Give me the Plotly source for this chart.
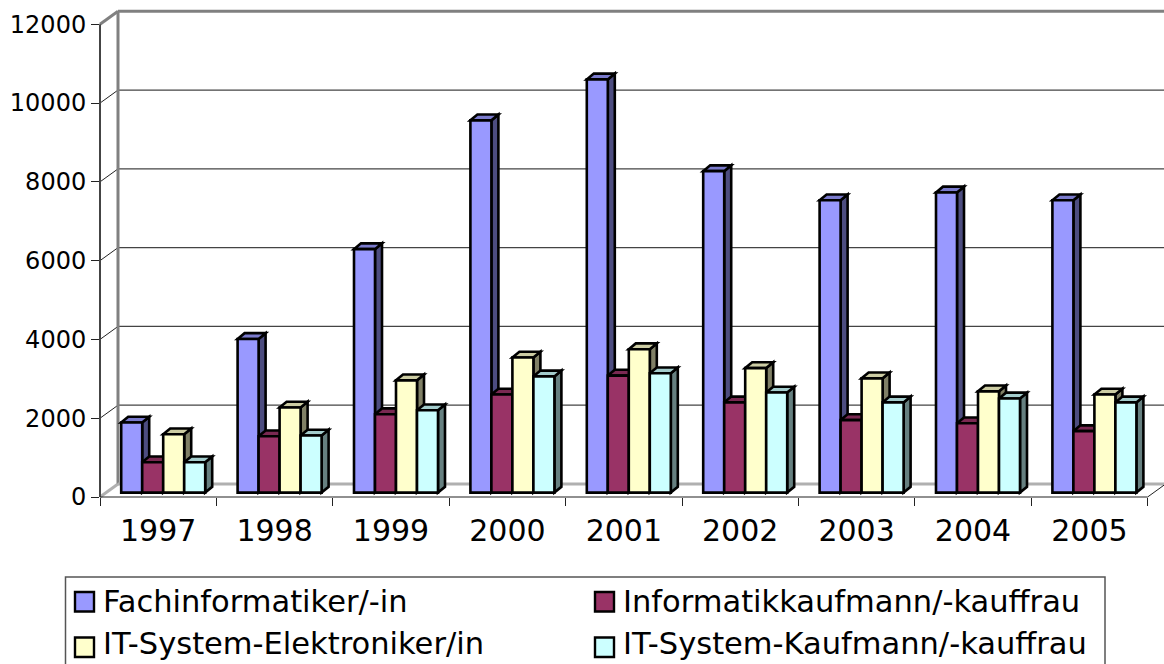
import plotly.graph_objects as go

years = ["1997", "1998", "1999", "2000", "2001", "2002", "2003", "2004", "2005"]
fachinformatiker = [1780, 3900, 6180, 9450, 10490, 8160, 7420, 7620, 7420]
informatikkaufmann = [770, 1430, 1990, 2490, 2970, 2290, 1840, 1760, 1560]
it_elektroniker = [1480, 2160, 2850, 3430, 3640, 3160, 2900, 2570, 2490]
it_kaufmann = [770, 1450, 2090, 2950, 3030, 2540, 2290, 2390, 2290]
series_names = ["Fachinformatiker/-in", "Informatikkaufmann/-kauffrau",
                "IT-System-Elektroniker/in", "IT-System-Kaufmann/-kauffrau"]
y_ticks = [0, 2000, 4000, 6000, 8000, 10000, 12000]

series = [fachinformatiker, informatikkaufmann, it_elektroniker, it_kaufmann]
front = ["#9999FF", "#993366", "#FFFFCC", "#CCFFFF"]
side = ["#4D4D80", "#4D1A33", "#808066", "#668080"]
top = ["#7A7ACC", "#7A2952", "#CCCCA3", "#A3CCCC"]

FONT = "DejaVu Sans, Verdana, sans-serif"
W, H = 1164, 664
L, R_EDGE, T, B = 100, 1164, 5, 497
CAT = 116.4
PPU = 472.7 / 12000
N = len(years)
EDGE = 2.6

def xp(px):
    return (px - L) / (R_EDGE - L)

def yp(py):
    return (B - py) / (B - T)

def vy(v):
    return B - v * PPU

def seg(x0, y0, x1, y1, color, width, layer="below"):
    return dict(type="line", xref="paper", yref="paper", x0=xp(x0), y0=yp(y0), x1=xp(x1), y1=yp(y1),
                line=dict(color=color, width=width), layer=layer)

DX_W, DY_W = 18, 13
front_end = L + CAT * N
shapes = []
# back wall gridlines and their side-wall diagonals
for v in y_ticks[1:-1]:
    shapes.append(seg(L, vy(v), L + DX_W, vy(v) - DY_W, "#222222", 1))
    shapes.append(seg(L + DX_W, vy(v) - DY_W, R_EDGE, vy(v) - DY_W, "#444444", 1.2))
# wall frame
shapes.append(seg(L, vy(12000), L + DX_W, vy(12000) - DY_W, "#808080", 3))
shapes.append(seg(L + DX_W, vy(12000) - DY_W, R_EDGE, vy(12000) - DY_W, "#808080", 3))
shapes.append(seg(L + DX_W, vy(12000) - DY_W, L + DX_W, B - DY_W, "#808080", 3))
shapes.append(seg(L + DX_W, B - DY_W, R_EDGE, B - DY_W, "#B0B0B0", 3))
shapes.append(seg(L, B, L + DX_W, B - DY_W, "#B0B0B0", 3))
# front axes
shapes.append(seg(L, vy(12000), L, B, "#444444", 2))
shapes.append(seg(L, B, front_end, B, "#222222", 1.2))
shapes.append(seg(front_end, B, R_EDGE, B - DY_W * (R_EDGE - front_end) / DX_W, "#222222", 1))

# bar depth faces, computed from the values
BASE = 4.4 / PPU
BAR = 21 / CAT
START = -37 / CAT
DX = 7 / CAT
DY = 5.8 / PPU
for k, vals in enumerate(series):
    for i, v in enumerate(vals):
        x0 = i + START + k * BAR
        x1 = x0 + BAR
        t = BASE + v
        shapes.append(dict(type="path", xref="x", yref="y", layer="below", fillcolor=side[k],
                           line=dict(color="black", width=EDGE),
                           path=f"M{x1},{t}L{x1 + DX},{t + DY}L{x1 + DX},{BASE + DY}L{x1},{BASE}Z"))
        shapes.append(dict(type="path", xref="x", yref="y", layer="below", fillcolor=top[k],
                           line=dict(color="black", width=EDGE),
                           path=f"M{x0},{t}L{x0 + DX},{t + DY}L{x1 + DX},{t + DY}L{x1},{t}Z"))

fig = go.Figure()
for k, vals in enumerate(series):
    fig.add_trace(go.Bar(x=list(range(N)), y=vals, base=BASE, width=BAR, offset=START + k * BAR,
                         name=series_names[k], marker=dict(color=front[k], line=dict(color="black", width=EDGE)),
                         showlegend=False))

# legend
shapes.append(dict(type="rect", xref="paper", yref="paper", x0=xp(65.5), x1=xp(1105), y0=yp(577), y1=yp(680),
                   line=dict(color="#555555", width=1.5), fillcolor="white", layer="above"))
annotations = []
positions = [(75, 602), (595, 602), (75, 647.5), (595, 647.5)]
text_rows = [601, 601, 643.5, 643.5]
for k, (px, py) in enumerate(positions):
    shapes.append(dict(type="rect", xref="paper", yref="paper", x0=xp(px), x1=xp(px + 19), y0=yp(py - 10), y1=yp(py + 9.5),
                       fillcolor=front[k], line=dict(color="black", width=2.4), layer="above"))
    annotations.append(dict(xref="paper", yref="paper", x=xp(px + 26), y=yp(text_rows[k]), xanchor="left", yanchor="middle",
                            text=series_names[k], showarrow=False, font=dict(family=FONT, size=30.5, color="black")))

fig.update_layout(
    width=W, height=H, autosize=False, barmode="overlay",
    margin=dict(l=L, r=W - R_EDGE, t=T, b=H - B, pad=0),
    paper_bgcolor="white", plot_bgcolor="rgba(0,0,0,0)",
    font=dict(family=FONT, size=24, color="black"),
    shapes=shapes, annotations=annotations, showlegend=False,
    xaxis=dict(range=[-0.5, -0.5 + (R_EDGE - L) / CAT], tickvals=list(range(N)), ticktext=years, ticks="",
               showgrid=False, zeroline=False, showline=False, tickfont=dict(size=30), ticklabelstandoff=13,
               minor=dict(tickvals=[i - 0.5 for i in range(N + 1)], ticks="outside", ticklen=8, tickwidth=1,
                          tickcolor="#222222", showgrid=False)),
    yaxis=dict(range=[0, (B - T) / PPU], tickvals=y_ticks, tickformat="d", ticks="outside", ticklen=8, tickwidth=1,
               tickcolor="#222222", showgrid=False, zeroline=False, showline=False, tickfont=dict(size=24)),
)

fig.write_html("out.html", config={"displayModeBar": False},
               post_script="document.body.style.margin='0';document.documentElement.style.overflow='hidden';")
